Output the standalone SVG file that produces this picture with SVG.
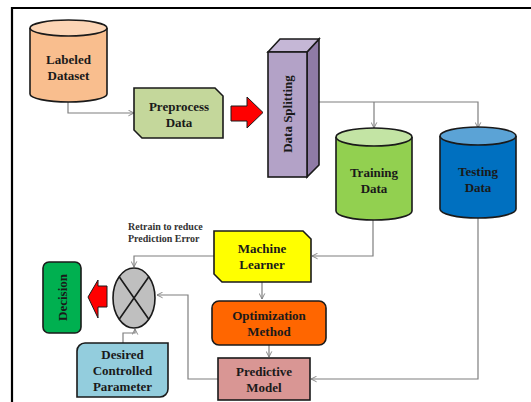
<svg xmlns="http://www.w3.org/2000/svg" width="531" height="402" viewBox="0 0 531 402">
<defs>
<style>
.t{font-family:"Liberation Serif","Times New Roman",serif;font-weight:bold;font-size:13px;fill:#1a1a1a;text-anchor:middle}
.s{font-family:"Liberation Serif","Times New Roman",serif;font-weight:bold;font-size:10px;fill:#333}
.o{stroke:#1a1a1a;stroke-width:1.6}
.c{fill:none;stroke:#7f7f7f;stroke-width:1.2}
</style>
<marker id="ah" viewBox="0 0 10 10" refX="9" refY="5" markerWidth="7" markerHeight="7" orient="auto" markerUnits="userSpaceOnUse">
<path d="M1,1 L9,5 L1,9" fill="none" stroke="#7f7f7f" stroke-width="1.3"/>
</marker>
</defs>
<rect width="531" height="402" fill="#fff"/>
<path d="M12,402 V8 H531" fill="none" stroke="#000" stroke-width="2.2"/>

<g id="connectors">
<path class="c" d="M68,102 V113 H134" marker-end="url(#ah)"/>
<path class="c" d="M319,102 H478 V128"  marker-end="url(#ah)"/>
<path class="c" d="M374,102 V128" marker-end="url(#ah)"/>
<path class="c" d="M373,219 V256 H312" marker-end="url(#ah)"/>
<path class="c" d="M262,282 V299" marker-end="url(#ah)"/>
<path class="c" d="M269,345 V357" marker-end="url(#ah)"/>
<path class="c" d="M478,217 V379 H311" marker-end="url(#ah)"/>
<path class="c" d="M218,379 H188 V295 H157" marker-end="url(#ah)"/>
<path class="c" d="M214,256 H134 V267" marker-end="url(#ah)"/>
<path class="c" d="M123,343 V333 H135 V329" marker-end="url(#ah)"/>
</g>

<g id="labeled-dataset">
<path class="o" d="M30,28 V94 A38.5,8 0 0 0 107,94 V28" fill="#F9BE8E"/>
<ellipse class="o" cx="68.5" cy="28" rx="38.5" ry="8" fill="#FCD5B5"/>
<text class="t" x="68.5" y="64">Labeled</text>
<text class="t" x="68.5" y="80">Dataset</text>
</g>

<g id="preprocess">
<path class="o" d="M134,88 H215 L223,96 V138 H142 L134,130 Z" fill="#C4D79B"/>
<text class="t" x="179" y="111">Preprocess</text>
<text class="t" x="179" y="127">Data</text>
</g>

<g id="red-arrow-1">
<path d="M231,106 H247 V97 L263,112.5 L247,128 V121 H231 Z" fill="#FF0000" stroke="#1a1a1a" stroke-width="1"/>
</g>

<g id="data-splitting">
<path class="o" d="M307,52 L319,39 V165 L307,177 Z" fill="#8F7BA6"/>
<path class="o" d="M268,52 L280,39 H319 L307,52 Z" fill="#C5B7D6"/>
<rect class="o" x="268" y="52" width="39" height="125" fill="#B3A2C7"/>
<text class="t" transform="translate(292,114) rotate(-90)">Data Splitting</text>
</g>

<g id="training-data">
<path class="o" d="M336,137 V211 A38,9 0 0 0 412,211 V137" fill="#92D050"/>
<ellipse class="o" cx="374" cy="137" rx="38" ry="9" fill="#C3E4A4"/>
<text class="t" x="374" y="177">Training</text>
<text class="t" x="374" y="193">Data</text>
</g>

<g id="testing-data">
<path class="o" d="M440,136 V209 A38,9 0 0 0 516,209 V136" fill="#0070C0"/>
<ellipse class="o" cx="478" cy="136" rx="38" ry="9" fill="#5BA3D6"/>
<text class="t" x="478" y="176">Testing</text>
<text class="t" x="478" y="192">Data</text>
</g>

<g id="machine-learner">
<path class="o" d="M214,231 H303 L311,239 V282 H222 L214,274 Z" fill="#FFFF00"/>
<text class="t" x="262" y="253">Machine</text>
<text class="t" x="262" y="269">Learner</text>
</g>

<g id="optimization">
<rect class="o" x="212" y="301" width="114" height="44" rx="7" fill="#FF6600"/>
<text class="t" x="269" y="320">Optimization</text>
<text class="t" x="269" y="336">Method</text>
</g>

<g id="predictive-model">
<rect class="o" x="218" y="358" width="92" height="42" fill="#D99694"/>
<text class="t" x="264" y="376">Predictive</text>
<text class="t" x="264" y="392">Model</text>
</g>

<g id="comparator">
<ellipse class="o" cx="134" cy="298" rx="21" ry="30" fill="#BFBFBF"/>
<path d="M119.2,276.8 L148.8,319.2 M148.8,276.8 L119.2,319.2" stroke="#1a1a1a" stroke-width="1.6"/>
</g>

<g id="red-arrow-2">
<path d="M107,286 H98 V280 L88,297 L98,318 V307 H107 Z" fill="#FF0000" stroke="#1a1a1a" stroke-width="1"/>
</g>

<g id="decision">
<rect class="o" x="43" y="262" width="38" height="71" rx="6" fill="#00B050"/>
<text class="t" transform="translate(66.5,297.5) rotate(-90)">Decision</text>
</g>

<g id="desired">
<path class="o" d="M85,343 H168 V389 A8,8 0 0 1 160,397 H77 V351 A8,8 0 0 1 85,343 Z" fill="#93CDDD"/>
<text class="t" x="122.5" y="359">Desired</text>
<text class="t" x="122.5" y="375">Controlled</text>
<text class="t" x="122.5" y="391">Parameter</text>
</g>

<g id="retrain-label">
<text class="s" x="128" y="230">Retrain to reduce</text>
<text class="s" x="128" y="242">Prediction Error</text>
</g>
</svg>
